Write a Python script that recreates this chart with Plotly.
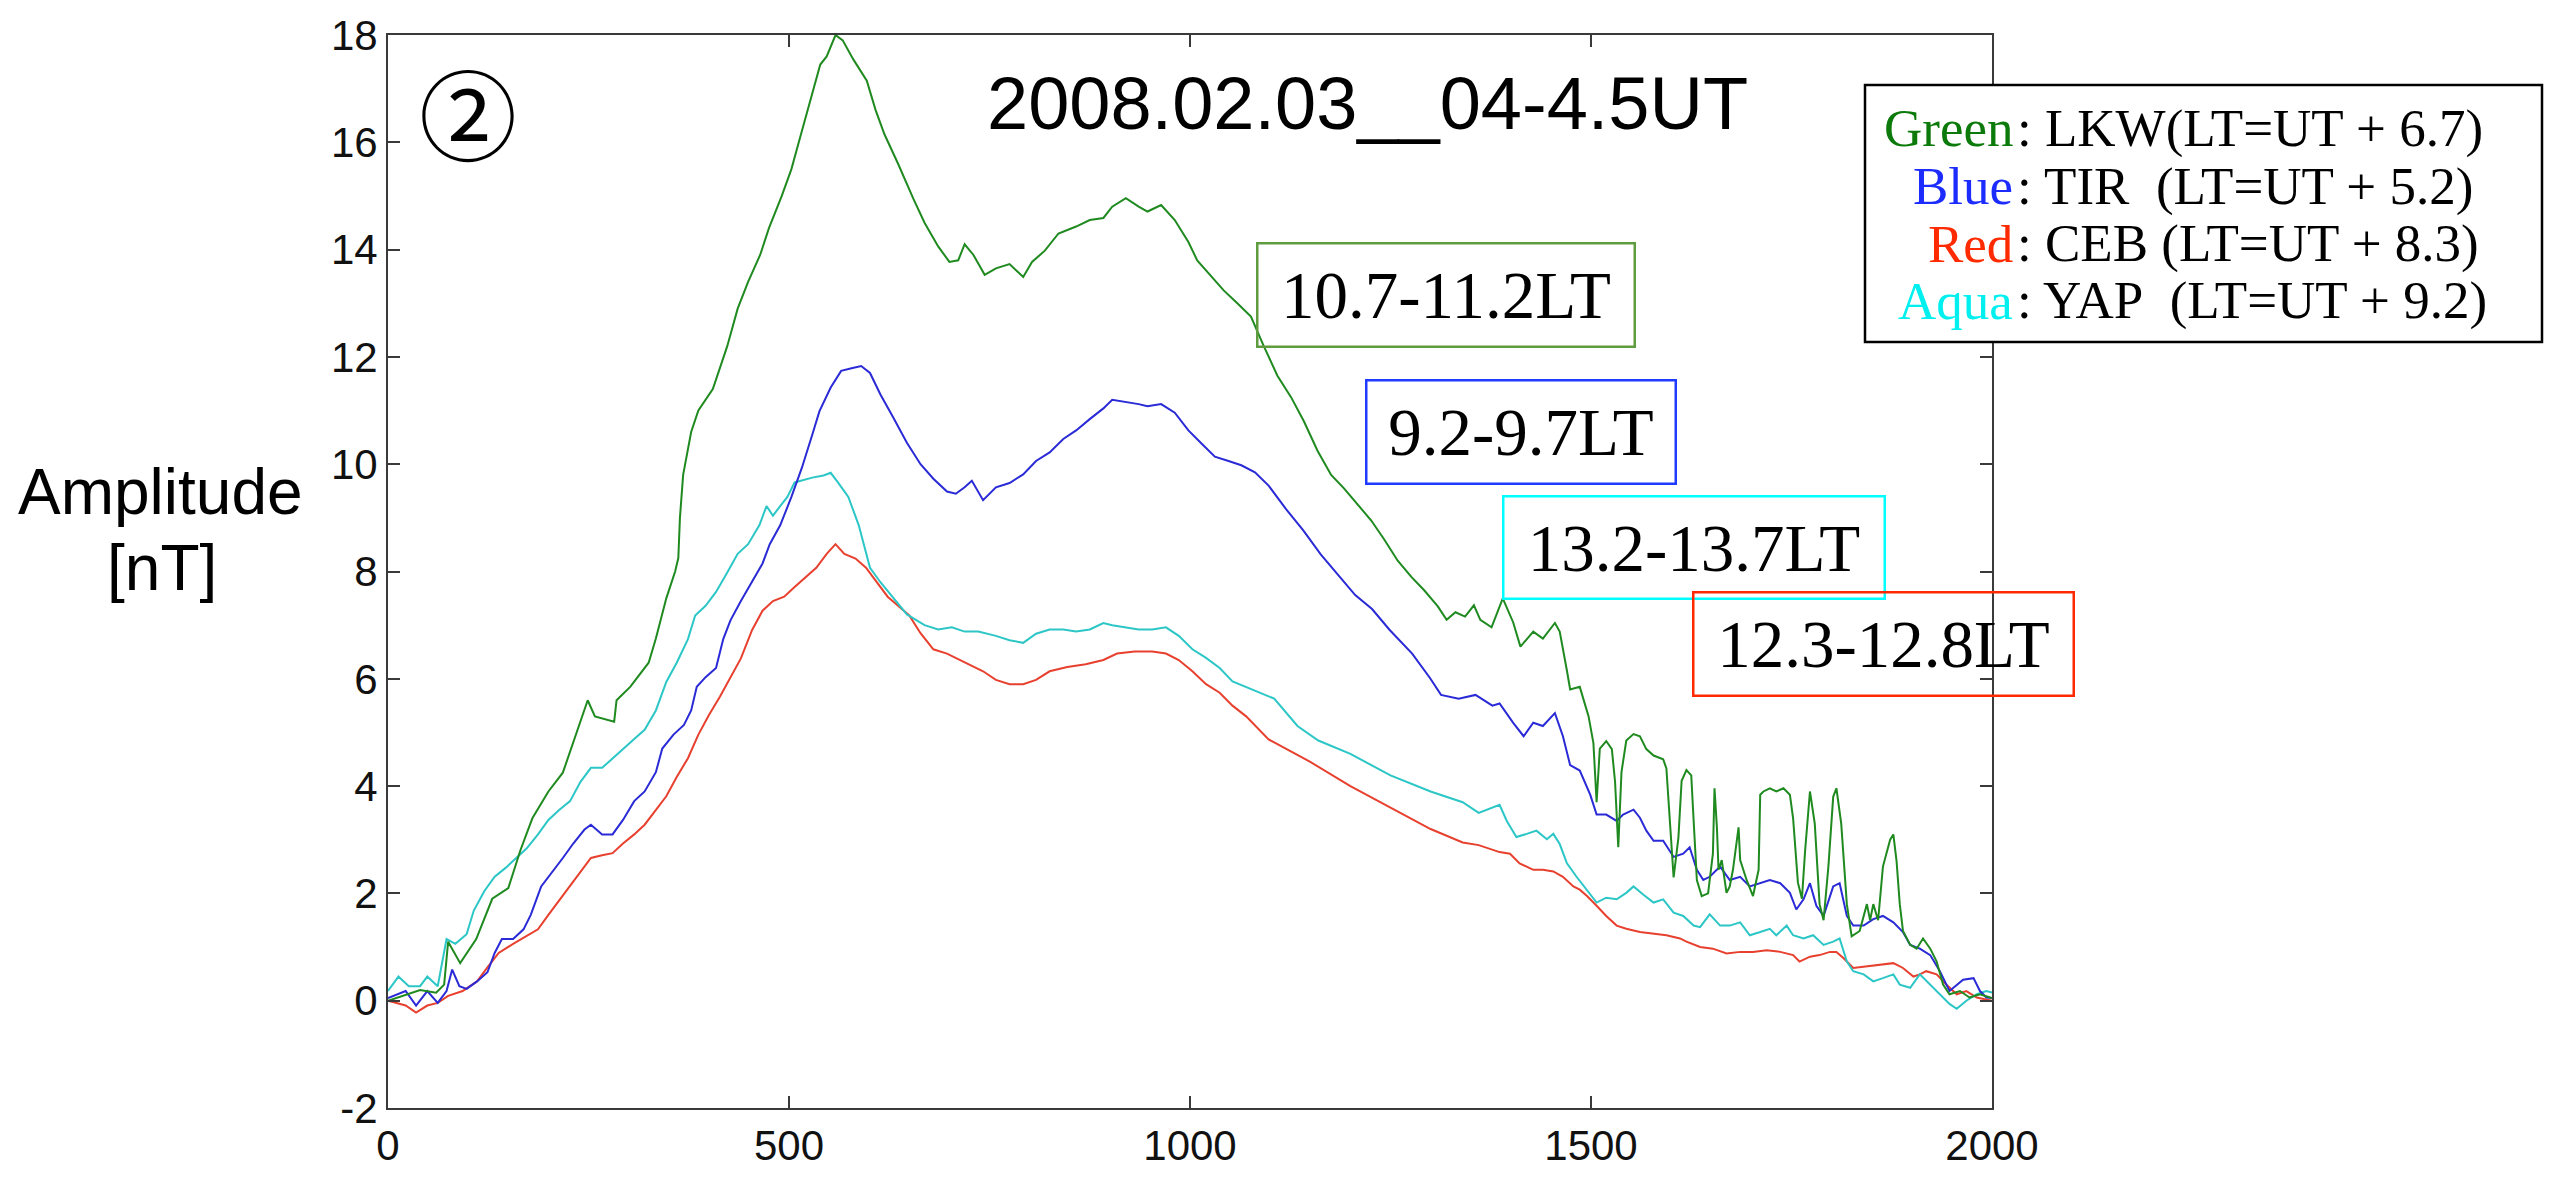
import plotly.graph_objects as go

# ---------------- data ----------------
X_TICKS = [0, 500, 1000, 1500, 2000]
Y_TICKS = [-2, 0, 2, 4, 6, 8, 10, 12, 14, 16, 18]

GREEN = [(0,0.0),(20,0.1),(40,0.2),(60,0.15),(70,0.3),(75,1.1),(90,0.7),(110,1.15),(130,1.9),(150,2.1),
         (165,2.8),(180,3.4),(200,3.9),(218,4.25),(231,4.8),(249,5.6),(258,5.3),(282,5.2),(285,5.6),(302,5.85),
         (325,6.3),(334,6.75),(347,7.5),(358,8.0),(362,8.25),(364,9.0),(368,9.8),(372,10.1),(378,10.6),(387,11.0),
         (396,11.2),(405,11.4),(414,11.8),(423,12.2),(436,12.9),(449,13.4),(464,13.9),(475,14.4),(491,15.0),(503,15.5),
         (514,16.1),(525,16.7),(539,17.45),(547,17.6),(558,18.0),(567,17.9),(580,17.55),(597,17.15),(608,16.6),(619,16.15),
         (636,15.6),(655,14.95),(669,14.5),(686,14.06),(700,13.77),(711,13.8),(719,14.1),(730,13.9),(744,13.53),(758,13.65),
         (775,13.73),(792,13.49),(803,13.77),(819,13.98),(836,14.3),(858,14.43),(875,14.55),(892,14.59),(903,14.8),(920,14.96),
         (936,14.8),(947,14.71),(964,14.83),(981,14.55),(998,14.14),(1009,13.8),(1025,13.53),(1042,13.24),(1059,13.0),(1076,12.75),
         (1092,12.2),(1109,11.65),(1126,11.25),(1142,10.8),(1159,10.25),(1176,9.8),(1192,9.55),(1209,9.25),(1226,8.95),(1242,8.6),
         (1259,8.2),(1276,7.9),(1292,7.65),(1309,7.35),(1320,7.1),(1331,7.24),(1343,7.16),(1354,7.37),(1362,7.1),(1376,6.96),
         (1390,7.5),(1403,7.05),(1412,6.6),(1428,6.88),(1440,6.75),(1455,7.04),(1461,6.88),(1470,6.15),(1474,5.8),(1486,5.85),
         (1497,5.3),(1503,4.8),(1507,3.7),(1511,4.7),(1519,4.84),(1526,4.69),(1530,4.08),(1534,2.86),(1538,4.26),(1544,4.85),
         (1553,4.97),(1561,4.93),(1569,4.69),(1578,4.57),(1590,4.5),(1594,4.33),(1598,3.35),(1603,2.3),(1609,3.04),(1613,4.1),
         (1619,4.3),(1625,4.2),(1628,3.35),(1632,2.25),(1638,1.95),(1646,2.0),(1652,2.74),(1654,3.96),(1657,3.23),(1659,2.44),
         (1663,2.62),(1669,2.01),(1673,2.13),(1677,2.44),(1684,3.23),(1686,2.62),(1694,2.25),(1702,1.95),(1709,2.44),(1711,3.84),
         (1715,3.9),(1723,3.96),(1731,3.9),(1740,3.96),(1748,3.84),(1752,3.4),(1758,2.2),(1763,1.9),(1767,2.8),(1773,3.9),
         (1779,3.3),(1785,1.8),(1790,1.5),(1796,2.5),(1802,3.8),(1806,3.96),(1812,3.3),(1819,1.8),(1825,1.2),(1835,1.3),
         (1844,1.8),(1848,1.5),(1852,1.8),(1858,1.5),(1864,2.5),(1873,3.0),(1877,3.1),(1881,2.6),(1885,1.8),(1889,1.3),
         (1898,1.04),(1906,0.97),(1914,1.16),(1923,0.97),(1931,0.73),(1939,0.3),(1947,0.12),(1960,0.18),(1972,0.06),(1985,0.12),
         (2000,0.05)]

BLUE = [(0,0.05),(22,0.18),(35,-0.09),(49,0.18),(62,-0.04),(73,0.18),(80,0.58),(89,0.27),(98,0.22),(111,0.36),
        (124,0.53),(133,0.89),(142,1.15),(156,1.15),(169,1.33),(178,1.6),(191,2.13),(205,2.4),(218,2.66),(231,2.93),
        (245,3.19),(253,3.28),(267,3.1),(280,3.1),(293,3.37),(307,3.72),(320,3.9),(334,4.26),(342,4.7),(356,4.96),
        (369,5.14),(378,5.41),(385,5.85),(396,6.03),(409,6.2),(418,6.74),(427,7.09),(440,7.45),(454,7.8),(467,8.15),
        (476,8.51),(489,8.86),(503,9.39),(516,9.93),(529,10.55),(538,10.99),(552,11.43),(565,11.74),(578,11.79),(590,11.83),
        (601,11.7),(614,11.3),(630,10.87),(647,10.4),(664,10.0),(680,9.73),(697,9.49),(708,9.45),(719,9.57),(728,9.69),
        (742,9.33),(758,9.57),(775,9.65),(792,9.81),(808,10.06),(825,10.22),(842,10.47),(858,10.63),(875,10.84),(892,11.04),
        (903,11.2),(920,11.16),(936,11.12),(947,11.08),(964,11.12),(981,10.96),(998,10.63),(1014,10.39),(1031,10.14),(1048,10.06),
        (1064,9.98),(1081,9.85),(1098,9.6),(1120,9.16),(1141,8.77),(1163,8.32),(1184,7.94),(1206,7.56),(1227,7.3),(1249,6.91),
        (1277,6.47),(1299,6.02),(1313,5.7),(1335,5.63),(1356,5.7),(1377,5.5),(1386,5.54),(1403,5.18),(1416,4.93),(1428,5.18),
        (1440,5.12),(1455,5.36),(1465,4.93),(1474,4.39),(1486,4.29),(1499,3.84),(1507,3.47),(1519,3.47),(1532,3.35),(1540,3.47),
        (1553,3.56),(1561,3.41),(1569,3.17),(1578,2.98),(1590,2.98),(1603,2.68),(1615,2.74),(1623,2.86),(1632,2.44),(1640,2.25),
        (1648,2.31),(1661,2.5),(1673,2.25),(1686,2.31),(1698,2.13),(1711,2.19),(1723,2.25),(1736,2.19),(1748,2.01),(1756,1.7),
        (1765,1.89),(1773,2.19),(1781,1.77),(1790,1.58),(1802,2.13),(1810,2.19),(1819,1.58),(1827,1.4),(1840,1.4),(1852,1.52),
        (1864,1.58),(1877,1.46),(1889,1.28),(1898,1.04),(1910,0.97),(1923,0.85),(1935,0.55),(1947,0.18),(1956,0.3),(1964,0.39),
        (1977,0.42),(1985,0.18),(1993,0.06),(2000,0.05)]

RED = [(0,0.0),(22,-0.09),(35,-0.22),(49,-0.09),(62,-0.04),(75,0.09),(93,0.18),(111,0.36),(124,0.62),(138,0.89),
       (156,1.06),(173,1.2),(187,1.33),(200,1.6),(213,1.86),(227,2.13),(240,2.4),(253,2.66),(267,2.71),(280,2.75),
       (293,2.93),(307,3.1),(320,3.28),(334,3.55),(347,3.81),(360,4.17),(374,4.52),(387,4.96),(400,5.32),(414,5.67),
       (427,6.03),(440,6.38),(454,6.91),(467,7.27),(480,7.45),(494,7.53),(507,7.71),(520,7.89),(534,8.07),(547,8.33),
       (558,8.51),(569,8.33),(583,8.24),(596,8.07),(609,7.8),(623,7.53),(636,7.36),(650,7.18),(664,6.85),(680,6.55),
       (697,6.47),(719,6.31),(742,6.14),(758,5.98),(775,5.9),(792,5.9),(808,5.98),(825,6.14),(847,6.22),(870,6.27),
       (892,6.35),(909,6.47),(931,6.51),(953,6.51),(970,6.47),(986,6.35),(1003,6.14),(1020,5.9),(1037,5.74),(1053,5.5),
       (1070,5.3),(1098,4.87),(1150,4.45),(1200,4.0),(1250,3.6),(1300,3.2),(1340,2.95),(1360,2.9),(1386,2.77),(1399,2.74),
       (1411,2.56),(1428,2.44),(1440,2.44),(1453,2.41),(1465,2.31),(1478,2.13),(1486,2.07),(1495,1.95),(1507,1.77),(1519,1.58),
       (1532,1.4),(1544,1.34),(1561,1.28),(1578,1.25),(1594,1.22),(1611,1.16),(1619,1.1),(1636,1.0),(1652,0.97),(1669,0.88),
       (1686,0.91),(1702,0.91),(1719,0.94),(1736,0.91),(1752,0.85),(1760,0.73),(1773,0.82),(1785,0.85),(1798,0.91),(1806,0.91),
       (1815,0.79),(1827,0.61),(1844,0.64),(1860,0.67),(1877,0.7),(1889,0.61),(1902,0.45),(1910,0.49),(1918,0.55),(1931,0.49),
       (1943,0.3),(1956,0.12),(1968,0.18),(1981,0.06),(1993,0.03),(2000,0.0)]

AQUA = [(0,0.18),(13,0.45),(26,0.27),(40,0.27),(49,0.45),(62,0.27),(73,1.15),(84,1.06),(98,1.24),(107,1.68),
        (120,2.04),(133,2.31),(147,2.48),(160,2.66),(173,2.84),(187,3.1),(200,3.37),(213,3.55),(227,3.72),(240,4.08),
        (253,4.34),(267,4.34),(280,4.52),(293,4.7),(307,4.88),(320,5.05),(334,5.41),(347,5.94),(360,6.3),(374,6.74),
        (383,7.18),(396,7.36),(409,7.62),(423,7.98),(436,8.33),(449,8.51),(463,8.86),(472,9.22),(480,9.04),(489,9.22),
        (498,9.39),(507,9.66),(516,9.7),(529,9.75),(543,9.79),(552,9.84),(561,9.66),(574,9.39),(587,8.86),(601,8.07),
        (614,7.8),(630,7.5),(647,7.2),(669,7.0),(686,6.92),(703,6.96),(719,6.88),(736,6.88),(758,6.8),(775,6.72),
        (792,6.67),(808,6.84),(825,6.92),(842,6.92),(858,6.88),(875,6.92),(892,7.04),(903,7.0),(920,6.96),(936,6.92),
        (953,6.92),(970,6.96),(986,6.8),(1003,6.55),(1020,6.39),(1037,6.2),(1053,5.95),(1077,5.8),(1105,5.63),(1134,5.12),
        (1160,4.85),(1200,4.6),(1250,4.2),(1300,3.9),(1340,3.7),(1360,3.5),(1386,3.65),(1395,3.35),(1407,3.05),(1420,3.11),
        (1432,3.17),(1445,3.01),(1453,3.11),(1461,2.92),(1470,2.56),(1482,2.31),(1495,2.07),(1507,1.83),(1519,1.92),(1532,1.89),
        (1544,2.01),(1553,2.13),(1565,1.98),(1578,1.83),(1590,1.89),(1603,1.64),(1615,1.58),(1628,1.4),(1636,1.37),(1648,1.61),
        (1661,1.4),(1673,1.4),(1686,1.46),(1698,1.22),(1711,1.28),(1723,1.34),(1731,1.22),(1744,1.4),(1752,1.22),(1765,1.16),
        (1777,1.22),(1790,1.04),(1802,1.1),(1810,1.16),(1819,0.73),(1827,0.55),(1840,0.49),(1852,0.36),(1864,0.42),(1877,0.49),
        (1885,0.3),(1898,0.24),(1910,0.49),(1923,0.3),(1935,0.12),(1947,-0.06),(1956,-0.15),(1968,0.0),(1981,0.12),(1993,0.18),
        (2000,0.15)]

TITLE = "2008.02.03__04-4.5UT"
PANEL = "②"
BOX_LABELS = ["10.7-11.2LT", "9.2-9.7LT", "13.2-13.7LT", "12.3-12.8LT"]
LEGEND_WORDS = ["Green", "Blue", "Red", "Aqua"]
LEGEND_REST = [": LKW(LT=UT + 6.7)", ": TIR\u00a0\u00a0(LT=UT + 5.2)", ": CEB (LT=UT + 8.3)", ": YAP\u00a0\u00a0(LT=UT + 9.2)"]

# ---------------- styling ----------------
W, H = 2550, 1181
L, R, T, B = 388, 1992, 32, 1126   # plot area in pixels


def px(x):
    return (x - L) / (R - L)


def py(y):
    return (B - y) / (B - T)


fig = go.Figure()
series = [(RED, "#e8402e"), (AQUA, "#2cc6c6"), (BLUE, "#2a2ad6"), (GREEN, "#1f8a1f")]
for data, col in series:
    fig.add_trace(go.Scatter(x=[p[0] for p in data], y=[p[1] for p in data], mode="lines",
                             line=dict(color=col, width=2), showlegend=False, hoverinfo="skip"))

axis_common = dict(showline=True, linecolor="#3a3a3a", linewidth=2, mirror="ticks",
                   ticks="inside", ticklen=12, tickwidth=2, tickcolor="#3a3a3a",
                   showgrid=False, zeroline=False,
                   tickfont=dict(family="Liberation Sans, Arial, sans-serif", size=42, color="#111"))

fig.update_xaxes(range=[0, 2000], tickvals=X_TICKS, ticktext=[str(v) for v in X_TICKS], **axis_common)
fig.update_yaxes(range=[-2, 18], tickvals=Y_TICKS, ticktext=[str(v) for v in Y_TICKS], **axis_common)

annotations = []
# panel mark
annotations.append(dict(text=PANEL, x=px(468), y=py(108), xref="paper", yref="paper", showarrow=False,
                        xanchor="center", yanchor="middle",
                        font=dict(family="Noto Sans CJK JP, DejaVu Sans", size=98, color="black")))
# title
annotations.append(dict(text=TITLE, x=px(985), y=py(102), xref="paper", yref="paper", showarrow=False,
                        xanchor="left", yanchor="middle",
                        font=dict(family="Liberation Sans, Arial, sans-serif", size=74, color="black")))
# y axis title
annotations.append(dict(text="Amplitude", x=px(161), y=py(498), xref="paper", yref="paper", showarrow=False,
                        xanchor="center", yanchor="middle",
                        font=dict(family="Liberation Sans, Arial, sans-serif", size=64, color="black")))
annotations.append(dict(text="[nT]", x=px(162), y=py(575), xref="paper", yref="paper", showarrow=False,
                        xanchor="center", yanchor="middle",
                        font=dict(family="Liberation Sans, Arial, sans-serif", size=64, color="black")))

# labelled boxes (left, top, width, height, color)
boxes = [(1256, 243, 379, 105, "#5f9b3f"), (1365, 383, 311, 105, "#1f3bff"),
         (1502, 501, 383, 104, "#00ffff"), (1692, 599, 382, 105, "#ff2a00")]
for label, (bx, by, bw, bh, bc) in zip(BOX_LABELS, boxes):
    annotations.append(dict(text=label, x=px(bx), y=py(by), xref="paper", yref="paper", showarrow=False,
                            xanchor="left", yanchor="top", width=bw - 4, height=bh - 4,
                            align="center", valign="middle", bordercolor=bc, borderwidth=2.5, borderpad=0,
                            font=dict(family="Liberation Serif, Times New Roman, serif", size=67, color="black")))

# legend box text
legend_cols = ["#0b7a0b", "#1c2cff", "#ff2a00", "#00f0f0"]
colon_x = 2015
line_centers = [127, 186, 245, 303]
for word, rest, col, yc in zip(LEGEND_WORDS, LEGEND_REST, legend_cols, line_centers):
    annotations.append(dict(text=word, x=px(colon_x), y=py(yc), xref="paper", yref="paper", showarrow=False,
                            xanchor="right", yanchor="middle",
                            font=dict(family="Liberation Serif, Times New Roman, serif", size=53, color=col)))
    annotations.append(dict(text=rest, x=px(colon_x), y=py(yc), xref="paper", yref="paper", showarrow=False,
                            xanchor="left", yanchor="middle",
                            font=dict(family="Liberation Serif, Times New Roman, serif", size=53, color="black")))

shapes = [dict(type="rect", xref="paper", yref="paper", x0=px(1865), x1=px(2542), y0=py(345), y1=py(83),
               fillcolor="white", line=dict(color="black", width=2.5), layer="above")]

fig.update_layout(width=W, height=H, margin=dict(l=L, r=W - R, t=T, b=H - B, pad=0),
                  paper_bgcolor="white", plot_bgcolor="white",
                  annotations=annotations, shapes=shapes, showlegend=False)

fig.write_html("out.html")
